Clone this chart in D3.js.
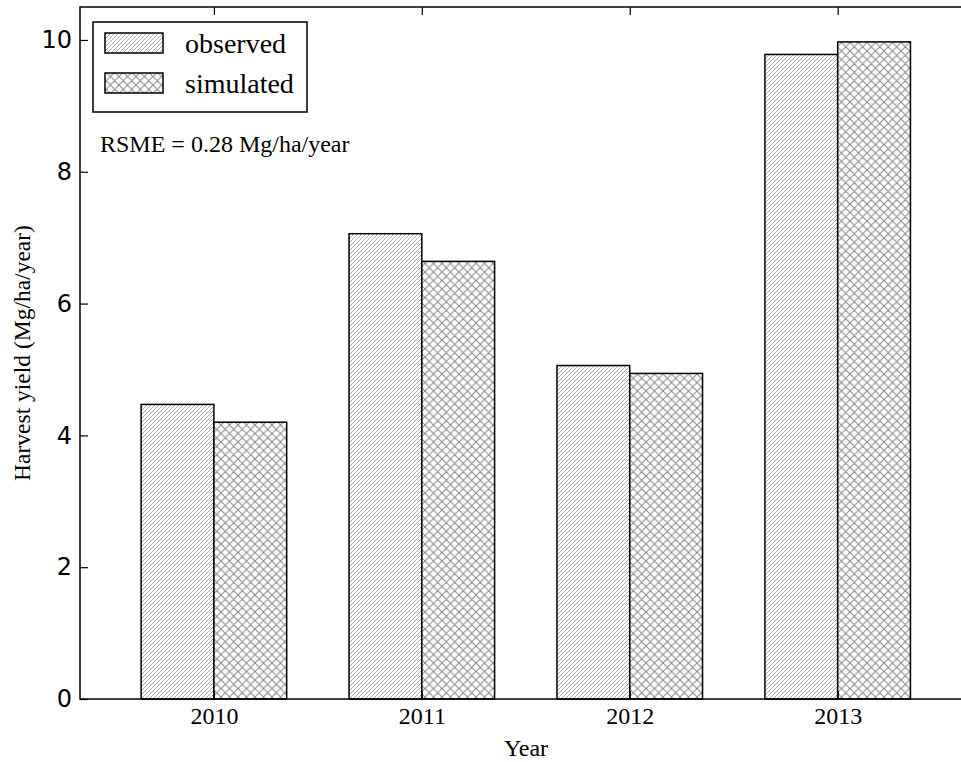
<!DOCTYPE html>
<html>
<head>
<meta charset="utf-8">
<script src="https://cdn.jsdelivr.net/npm/d3@7"></script>
<style>
  html, body { margin: 0; padding: 0; background: #fff; }
  svg { display: block; }
</style>
</head>
<body>
<svg id="chart" width="961" height="762"></svg>
<script>
// Harvest yield per year, observed vs. simulated (Mg/ha/year)
const years = ["2010", "2011", "2012", "2013"];
const observed = [4.47, 7.06, 5.06, 9.78];
const simulated = [4.20, 6.64, 4.94, 9.97];
const seriesNames = ["observed", "simulated"];
const yTicks = [0, 2, 4, 6, 8, 10];
const rmseLabel = "RSME = 0.28 Mg/ha/year";

(function () {
  const svg = d3.select("#chart");
  const serif = "'Liberation Serif', 'Times New Roman', serif";
  const sans = "'DejaVu Sans', sans-serif";
  const plotLeft = 80, plotTop = 7, plotBottom = 699;
  const step = 207.9;          // pixel distance between year centres
  const firstCentre = 214;     // centre of the first year group
  const plotRight = firstCentre + 3 * step + 0.644 * step; // frame runs past the canvas edge

  // Linear x scale over group index, y scale over yield
  const x = d3.scaleLinear().domain([-0.644, 3.644]).range([plotLeft, plotRight]);
  const y = d3.scaleLinear().domain([0, 10.5]).range([plotBottom, plotTop]);
  const barW = 0.35;

  // Hatch patterns
  const defs = svg.append("defs");
  const diag = defs.append("pattern")
    .attr("id", "hatchDiag").attr("patternUnits", "userSpaceOnUse")
    .attr("width", 4).attr("height", 4);
  diag.append("rect").attr("width", 4).attr("height", 4).attr("fill", "#fff");
  diag.append("path")
    .attr("d", "M-1,1 L1,-1 M0,4 L4,0 M3,5 L5,3")
    .attr("stroke", "#9a9a9a").attr("stroke-width", 0.8);

  const cross = defs.append("pattern")
    .attr("id", "hatchCross").attr("patternUnits", "userSpaceOnUse")
    .attr("width", 8.5).attr("height", 8.5);
  cross.append("rect").attr("width", 8.5).attr("height", 8.5).attr("fill", "#fff");
  cross.append("path")
    .attr("d", "M0,8.5 L8.5,0 M-1,1 L1,-1 M7.5,9.5 L9.5,7.5 M0,0 L8.5,8.5 M-1,7.5 L1,9.5 M7.5,-1 L9.5,1")
    .attr("stroke", "#858585").attr("stroke-width", 1);

  const fills = ["url(#hatchDiag)", "url(#hatchCross)"];
  const series = [observed, simulated];

  // Bars
  series.forEach((vals, s) => {
    svg.append("g").selectAll("rect")
      .data(vals)
      .join("rect")
      .attr("x", (d, i) => x(i - barW + s * barW))
      .attr("y", d => y(d))
      .attr("width", (d, i) => x(i + barW) - x(i))
      .attr("height", d => y(0) - y(d))
      .attr("fill", fills[s])
      .attr("stroke", "#000")
      .attr("stroke-width", 1.5);
  });

  // Axes (ticks point inward, on all sides)
  const gy = svg.append("g").attr("transform", `translate(${plotLeft},0)`)
    .call(d3.axisLeft(y).tickValues(yTicks).tickSizeInner(-8).tickSizeOuter(0).tickPadding(8).tickFormat(d3.format("d")));
  gy.select(".domain").remove();
  gy.attr("font-family", sans).attr("font-size", 24);
  gy.selectAll(".tick line").attr("stroke", "#000").attr("stroke-width", 1.2);
  gy.selectAll(".tick text").attr("fill", "#000");

  const gyr = svg.append("g").attr("transform", `translate(${plotRight},0)`)
    .call(d3.axisRight(y).tickValues(yTicks).tickSizeInner(-8).tickSizeOuter(0).tickFormat(""));
  gyr.select(".domain").remove();

  const gx = svg.append("g").attr("transform", `translate(0,${plotBottom})`)
    .call(d3.axisBottom(x).tickValues(d3.range(years.length)).tickSizeInner(-8).tickSizeOuter(0)
      .tickFormat(i => years[i]));
  gx.select(".domain").remove();
  gx.attr("font-family", serif).attr("font-size", 24);
  gx.selectAll(".tick line").attr("stroke", "#000").attr("stroke-width", 1.2);
  gx.selectAll(".tick text").attr("fill", "#000").attr("y", 25).attr("dy", 0);

  const gxt = svg.append("g").attr("transform", `translate(0,${plotTop})`)
    .call(d3.axisTop(x).tickValues(d3.range(years.length)).tickSizeInner(-8).tickSizeOuter(0).tickFormat(""));
  gxt.select(".domain").remove();
  gxt.selectAll(".tick line").attr("stroke", "#000").attr("stroke-width", 1.2);

  // Frame
  svg.append("rect")
    .attr("x", plotLeft).attr("y", plotTop)
    .attr("width", plotRight - plotLeft).attr("height", plotBottom - plotTop)
    .attr("fill", "none").attr("stroke", "#000").attr("stroke-width", 1.5);

  // Axis titles
  svg.append("text")
    .attr("x", 526).attr("y", 756)
    .attr("text-anchor", "middle")
    .attr("font-family", serif).attr("font-size", 24)
    .text("Year");

  svg.append("text")
    .attr("transform", `translate(30,${(plotTop + plotBottom) / 2}) rotate(-90)`)
    .attr("text-anchor", "middle")
    .attr("font-family", serif).attr("font-size", 23.5)
    .text("Harvest yield (Mg/ha/year)");

  // Legend
  const lg = svg.append("g");
  lg.append("rect")
    .attr("x", 93).attr("y", 22).attr("width", 214).attr("height", 90)
    .attr("fill", "#fff").attr("stroke", "#000").attr("stroke-width", 1.5);
  seriesNames.forEach((name, s) => {
    lg.append("rect")
      .attr("x", 105).attr("y", 33 + s * 40).attr("width", 58).attr("height", 20)
      .attr("fill", fills[s]).attr("stroke", "#000").attr("stroke-width", 1.5);
    lg.append("text")
      .attr("x", 185).attr("y", 53 + s * 40)
      .attr("font-family", serif).attr("font-size", 28)
      .text(name);
  });

  // RMSE annotation
  svg.append("text")
    .attr("x", 100).attr("y", 152)
    .attr("font-family", serif).attr("font-size", 24)
    .text(rmseLabel);
})();
</script>
</body>
</html>
